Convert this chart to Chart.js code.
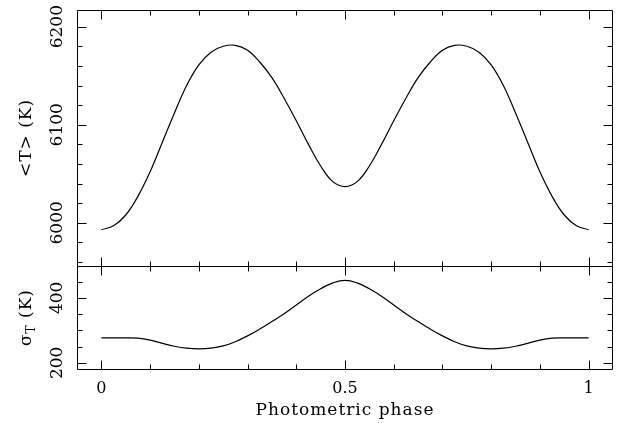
<!DOCTYPE html>
<html>
<head>
<meta charset="utf-8">
<script src="https://cdn.jsdelivr.net/npm/chart.js@4"></script>
<style>
  html, body { margin: 0; padding: 0; background: #fff; }
</style>
</head>
<body>
<canvas id="myChart" width="618" height="423"></canvas>
<script>
const phase = [0, 0.025, 0.05, 0.075, 0.1, 0.125, 0.15, 0.175, 0.2, 0.225, 0.25, 0.275, 0.3, 0.325, 0.35, 0.375, 0.4, 0.425, 0.45, 0.475,
  0.5, 0.525, 0.55, 0.575, 0.6, 0.625, 0.65, 0.675, 0.7, 0.725, 0.75, 0.775, 0.8, 0.825, 0.85, 0.875, 0.9, 0.925, 0.95, 0.975, 1];

// <T> (K)
const meanT = [5993, 5997, 6008, 6027, 6052, 6082, 6112, 6140, 6161, 6174, 6180, 6181, 6176, 6164, 6148, 6127, 6104, 6080, 6058, 6042,
  6037, 6042, 6058, 6080, 6104, 6127, 6148, 6164, 6176, 6181, 6180, 6174, 6161, 6140, 6112, 6082, 6052, 6027, 6008, 5997, 5993];

// sigma_T (K)
const sigmaT = [277, 277, 277, 276, 270, 260, 251, 245, 243, 245, 252, 265, 283, 304, 327, 351, 378, 405, 428, 446,
  454, 446, 428, 405, 378, 351, 327, 304, 283, 265, 252, 245, 243, 245, 251, 260, 270, 276, 277, 277, 277];

const phaseTicks = [0, 0.5, 1];
const phaseMinor = [0.1, 0.2, 0.3, 0.4, 0.6, 0.7, 0.8, 0.9];
const tTicks = [6000, 6100, 6200];
const tMinor = [5960, 5980, 6020, 6040, 6060, 6080, 6120, 6140, 6160, 6180];
const sigmaTicks = [200, 400];
const sigmaMinor = [250, 300, 350, 450];

const TICK_FONT = '16px "DejaVu Serif"';
const TITLE_FONT = '17px "DejaVu Serif"';

const hiddenAxis = {
  grid: { display: false, drawTicks: false },
  border: { display: false },
  ticks: { display: false }
};

// frame, inward ticks and all labels drawn by hand (PGPLOT look)
const framePlugin = {
  id: 'framePlugin',
  afterDraw(chart) {
    const ctx = chart.ctx;
    const x = chart.scales.x;
    const yT = chart.scales.yT;
    const yS = chart.scales.yS;
    const left = Math.round(x.left) + 0.5;
    const right = Math.round(x.right) - 0.5;
    const p = v => Math.round(v) + 0.5;

    ctx.save();
    ctx.strokeStyle = '#000';
    ctx.lineWidth = 1;

    const panels = [
      { s: yT, top: p(yT.top), bottom: p(yT.bottom), major: tTicks, minor: tMinor },
      { s: yS, top: p(yS.top), bottom: p(yS.bottom), major: sigmaTicks, minor: sigmaMinor }
    ];

    ctx.beginPath();
    panels.forEach(pn => {
      ctx.rect(left, pn.top, right - left, pn.bottom - pn.top);
      // x ticks on top and bottom edge of each panel
      phaseTicks.concat(phaseMinor).forEach(v => {
        const len = phaseTicks.includes(v) ? 9 : 5;
        const px = p(x.getPixelForValue(v));
        ctx.moveTo(px, pn.top); ctx.lineTo(px, pn.top + len);
        ctx.moveTo(px, pn.bottom); ctx.lineTo(px, pn.bottom - len);
      });
      pn.major.concat(pn.minor).forEach(v => {
        const len = pn.major.includes(v) ? 9 : 5;
        const py = p(pn.s.getPixelForValue(v));
        ctx.moveTo(left, py); ctx.lineTo(left + len, py);
        ctx.moveTo(right, py); ctx.lineTo(right - len, py);
      });
    });
    ctx.stroke();

    ctx.fillStyle = '#000';
    ctx.font = TICK_FONT;
    ctx.textAlign = 'center';
    ctx.textBaseline = 'middle';

    phaseTicks.forEach(v => {
      ctx.fillText(String(v), x.getPixelForValue(v), 389);
    });

    const rotText = (txt, cx, cy) => {
      ctx.save();
      ctx.translate(cx, cy);
      ctx.rotate(-Math.PI / 2);
      ctx.fillText(txt, 0, 0);
      ctx.restore();
    };
    ctx.font = '17px "DejaVu Serif"';
    tTicks.forEach(v => rotText(String(v), 58, yT.getPixelForValue(v)));
    sigmaTicks.forEach(v => rotText(String(v), 58, yS.getPixelForValue(v)));

    ctx.font = TITLE_FONT;
    ctx.letterSpacing = '1px';
    ctx.fillText('Photometric phase', (x.getPixelForValue(0) + x.getPixelForValue(1)) / 2, 411);
    rotText('<T> (K)', 27, (yT.top + yT.bottom) / 2);

    // sigma with subscript T
    ctx.save();
    ctx.translate(27, (yS.top + yS.bottom) / 2);
    ctx.rotate(-Math.PI / 2);
    ctx.textAlign = 'left';
    const subFont = '12px "DejaVu Serif"';
    ctx.font = TITLE_FONT;
    const w1 = ctx.measureText('σ').width;
    const w3 = ctx.measureText(' (K)').width;
    ctx.font = subFont;
    const w2 = ctx.measureText('T').width;
    let cx = -(w1 + w2 + w3) / 2;
    ctx.font = TITLE_FONT;
    ctx.fillText('σ', cx, 0);
    cx += w1;
    ctx.font = subFont;
    ctx.fillText('T', cx, 5);
    cx += w2;
    ctx.font = TITLE_FONT;
    ctx.fillText(' (K)', cx, 0);
    ctx.restore();

    ctx.restore();
  }
};

const ctx = document.getElementById('myChart').getContext('2d');

const config = {
  type: 'line',
  data: {
    datasets: [{
      data: phase.map((v, i) => ({ x: v, y: meanT[i] })),
      yAxisID: 'yT',
      borderColor: '#000',
      borderWidth: 1.2,
      pointRadius: 0,
      tension: 0.4
    }, {
      data: phase.map((v, i) => ({ x: v, y: sigmaT[i] })),
      yAxisID: 'yS',
      borderColor: '#000',
      borderWidth: 1.2,
      pointRadius: 0,
      tension: 0.4
    }]
  },
  options: {
    responsive: false,
    animation: false,
    layout: { padding: { left: 77, top: 10, right: 5, bottom: 54 } },
    scales: {
      x: { type: 'linear', min: -0.05, max: 1.05, ...hiddenAxis },
      // stacked panels: listed bottom first so that <T> lands on top
      yS: { type: 'linear', position: 'left', stack: 'panels', stackWeight: 103, min: 181, max: 498, ...hiddenAxis },
      yT: { type: 'linear', position: 'left', stack: 'panels', stackWeight: 256, min: 5956, max: 6217, ...hiddenAxis }
    },
    plugins: {
      legend: { display: false },
      tooltip: { enabled: false }
    }
  },
  plugins: [framePlugin]
};

const myChart = new Chart(ctx, config);
</script>
</body>
</html>
